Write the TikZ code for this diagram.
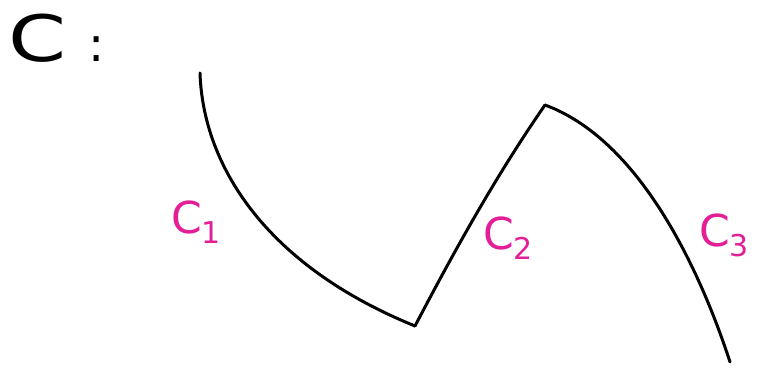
\documentclass[tikz,border=0pt]{standalone}
\usepackage{fontspec}
\setsansfont{DejaVu Sans}
\definecolor{pinkink}{RGB}{228,30,150}
\tikzset{
  curveseg/.style={line width=3pt, line cap=round, line join=round, black},
  seglabel/.style={text=pinkink, font=\sffamily\fontsize{44}{44}\selectfont, inner sep=0pt},
  titlelabel/.style={text=black, font=\sffamily\fontsize{64}{64}\selectfont, inner sep=0pt}
}
\begin{document}
\begin{tikzpicture}[x=1pt,y=-1pt]
\useasboundingbox (0,0) rectangle (763,371);
\fill[white] (0,0) rectangle (763,371);
\coordinate (p0) at (200,73);
\coordinate (p1) at (415,326);
\coordinate (p2) at (545,105);
\coordinate (p3) at (730,362);
\draw[curveseg] (p0) .. controls (203,165) and (265,265) .. (p1);
\draw[curveseg] (p1) .. controls (460,240) and (500,170) .. (p2);
\draw[curveseg] (p2) .. controls (640,140) and (700,270) .. (p3);
\node[titlelabel, anchor=west] (title) at (8,38) {\scalebox{1.3}[1]{C}\hspace{22pt}{\fontsize{48}{48}\selectfont:}};
\node[seglabel, anchor=center] (c1) at (196,222) {C\raisebox{-10pt}{\fontsize{30}{30}\selectfont 1}};
\node[seglabel, anchor=center] (c2) at (508,238) {C\raisebox{-10pt}{\fontsize{30}{30}\selectfont 2}};
\node[seglabel, anchor=center] (c3) at (724,235) {C\raisebox{-10pt}{\fontsize{30}{30}\selectfont 3}};
\end{tikzpicture}
\end{document}
